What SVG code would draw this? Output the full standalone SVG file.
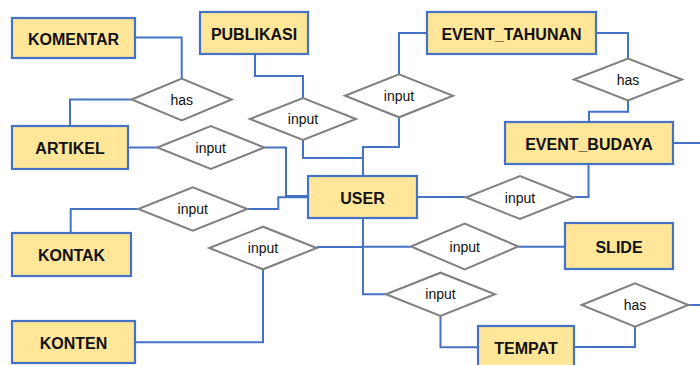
<svg xmlns="http://www.w3.org/2000/svg" width="700" height="365" viewBox="0 0 700 365">
  <style>
    .entity rect { fill: #FFE699; stroke: #4472C4; stroke-width: 2.2; }
    .entity text { font-family: "Liberation Sans", Arial, sans-serif; font-weight: bold; font-size: 16px; fill: #111; text-anchor: middle; }
    .rel polygon { fill: #FFFFFF; stroke: #808080; stroke-width: 2; }
    .rel text { font-family: "Liberation Sans", Arial, sans-serif; font-size: 14px; fill: #111; text-anchor: middle; }
    #connectors path { fill: none; stroke: #4472C4; stroke-width: 2; }
  </style>

  <rect width="700" height="365" fill="#FFFFFF"/>

  <!-- connectors -->
  <g id="connectors">
    <path d="M135,37.5 H181.7 V78.5"/>
    <path d="M131.7,99.5 H70 V126"/>
    <path d="M128,147.5 H157.3"/>
    <path d="M264.3,147.5 H286 V196 H308"/>
    <path d="M255,54 V76 H303 V98"/>
    <path d="M303,140 V158 H363 V176"/>
    <path d="M427,33 H399 V74.3"/>
    <path d="M399,117.3 V147 H363 V158"/>
    <path d="M596,33 H628 V58.5"/>
    <path d="M628,100.5 V111.7 H589 V122"/>
    <path d="M673,143 H700"/>
    <path d="M417,197 H466"/>
    <path d="M574,197 H588.5 V164"/>
    <path d="M138.3,209 H70.7 V233"/>
    <path d="M247.3,209 H278.3 V197.3 H308"/>
    <path d="M316.7,247 H363"/>
    <path d="M363,218 V294.3 H386"/>
    <path d="M363,246.7 H411"/>
    <path d="M518.3,246.7 H565"/>
    <path d="M263,269.3 V342.3 H135"/>
    <path d="M440.5,316 V347.3 H478"/>
    <path d="M574,347 H635 V326.7"/>
    <path d="M688.3,305 H700"/>
  </g>

  <!-- entities -->
  <g id="komentar" class="entity"><rect x="12" y="18" width="123" height="40"/><text x="73.5" y="44.5">KOMENTAR</text></g>
  <g id="publikasi" class="entity"><rect x="200" y="12" width="108" height="42"/><text x="254" y="39.5">PUBLIKASI</text></g>
  <g id="event_tahunan" class="entity"><rect x="427" y="12" width="169" height="42"/><text x="511.5" y="39.5">EVENT_TAHUNAN</text></g>
  <g id="artikel" class="entity"><rect x="12" y="126" width="116" height="43"/><text x="70" y="154">ARTIKEL</text></g>
  <g id="event_budaya" class="entity"><rect x="505" y="122" width="168" height="42"/><text x="589" y="149.5">EVENT_BUDAYA</text></g>
  <g id="user" class="entity"><rect x="308" y="176" width="109" height="42"/><text x="362.5" y="203.5">USER</text></g>
  <g id="kontak" class="entity"><rect x="12" y="233" width="119" height="43"/><text x="71.5" y="261">KONTAK</text></g>
  <g id="slide" class="entity"><rect x="565" y="223" width="108" height="46"/><text x="619" y="252.5">SLIDE</text></g>
  <g id="konten" class="entity"><rect x="12" y="321" width="123" height="42"/><text x="73.5" y="348.5">KONTEN</text></g>
  <g id="tempat" class="entity"><rect x="478" y="326" width="96" height="44"/><text x="526" y="354">TEMPAT</text></g>

  <!-- relationships -->
  <g id="has_komentar_artikel" class="rel"><polygon points="131.7,99.5 181.7,78.5 231.7,99.5 181.7,120.5"/><text x="181.7" y="104.5">has</text></g>
  <g id="input_artikel" class="rel"><polygon points="157.3,147.5 210.8,126 264.3,147.5 210.8,169"/><text x="210.8" y="152.5">input</text></g>
  <g id="input_publikasi" class="rel"><polygon points="250,119 303,98 356,119 303,140"/><text x="303" y="124">input</text></g>
  <g id="input_event_tahunan" class="rel"><polygon points="345,95.8 399,74.3 453,95.8 399,117.3"/><text x="399" y="100.8">input</text></g>
  <g id="has_event" class="rel"><polygon points="574,79.5 628,58.5 682,79.5 628,100.5"/><text x="628" y="84.5">has</text></g>
  <g id="input_kontak" class="rel"><polygon points="138.3,209 192.8,187.3 247.3,209 192.8,230.7"/><text x="192.8" y="214">input</text></g>
  <g id="input_konten" class="rel"><polygon points="209.3,248 263,226.7 316.7,248 263,269.3"/><text x="263" y="253">input</text></g>
  <g id="input_event_budaya" class="rel"><polygon points="466,197.5 520,176 574,197.5 520,219"/><text x="520" y="202.5">input</text></g>
  <g id="input_slide" class="rel"><polygon points="411,246.5 464.7,223.5 518.3,246.5 464.7,269.5"/><text x="464.7" y="251.5">input</text></g>
  <g id="input_tempat" class="rel"><polygon points="386,294.3 440.5,272.7 495,294.3 440.5,316"/><text x="440.5" y="299.3">input</text></g>
  <g id="has_tempat" class="rel"><polygon points="581.7,305 635,283.3 688.3,305 635,326.7"/><text x="635" y="310">has</text></g>
</svg>
